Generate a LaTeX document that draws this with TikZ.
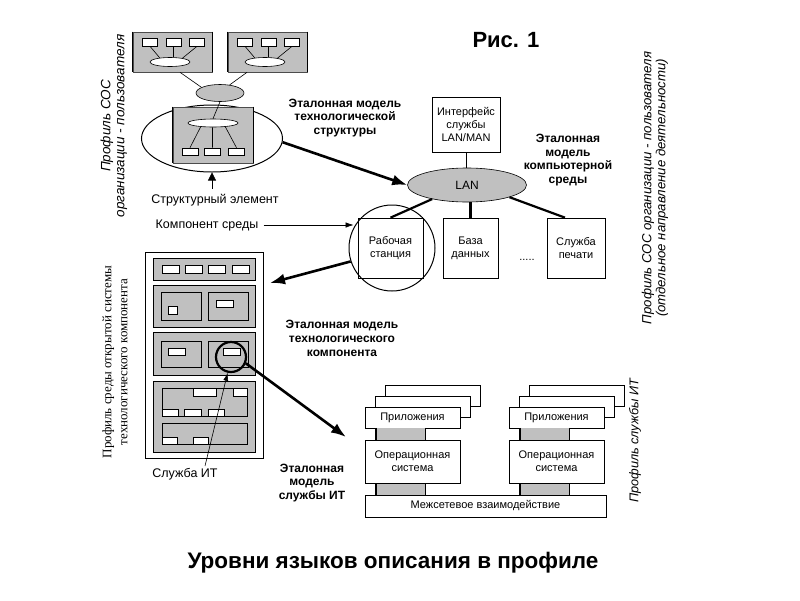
\documentclass[tikz,border=0pt]{standalone}
\usepackage{fontspec}
\setmainfont{Liberation Sans}
\newfontfamily\seriffont{Liberation Serif}
\usetikzlibrary{shapes.geometric,arrows.meta,calc}
\definecolor{pgray}{RGB}{192,192,192}
\tikzset{
  box/.style={draw=black, line width=0.7pt, fill=white, rectangle, inner sep=0pt, align=center, font=\fontsize{11}{13}\selectfont},
  gbox/.style={draw=black, line width=0.8pt, fill=pgray, rectangle, inner sep=0pt},
  tbox/.style={draw=gray!60!black, line width=0.6pt, fill=pgray, rectangle, inner sep=0pt},
  sm/.style={draw=black, line width=0.6pt, fill=white, rectangle, inner sep=0pt},
  ell/.style={draw=black, line width=0.6pt, ellipse, inner sep=0pt},
  conn/.style={line width=0.6pt},
  link/.style={line width=2.2pt},
  bigarrow/.style={line width=2.6pt, -{Latex[length=15pt,width=11pt]}},
  smallarrow/.style={line width=0.6pt, -{Latex[length=8pt,width=5.5pt]}},
  boldlbl/.style={font=\fontsize{12}{13.8}\selectfont\bfseries, align=center, inner sep=0pt},
  lbl/.style={font=\fontsize{12.5}{14}\selectfont, inner sep=0pt},
  gl/.style={fill=pgray, inner sep=0pt, minimum width=49pt, minimum height=12pt},
  side/.style={line width=1.4pt},
}
\begin{document}
\begin{tikzpicture}[x=1pt,y=-1pt]
\useasboundingbox[fill=white] (0,0) rectangle (800,600);

% ---------- top left: structure ----------
\node[tbox, minimum width=79pt, minimum height=40pt] (b1) at (172.5,52) {};
\node[tbox, minimum width=79pt, minimum height=40pt] (b2) at (267.5,52) {};
\draw[side] (b1.north west) -- (b1.south west) (b1.north east) -- (b1.south east);
\draw[side] (b2.north west) -- (b2.south west) (b2.north east) -- (b2.south east);
\foreach \n/\x in {1/150,2/173.5,3/197}{
  \node[sm, minimum width=15pt, minimum height=8pt] (b1r\n) at (\x,42) {};
}
\foreach \n/\x in {1/245,2/268.5,3/292}{
  \node[sm, minimum width=15pt, minimum height=8pt] (b2r\n) at (\x,42) {};
}
\node[ell, fill=white, minimum width=40pt, minimum height=9pt] (b1e) at (170,62) {};
\node[ell, fill=white, minimum width=40pt, minimum height=9pt] (b2e) at (265,62) {};
\draw[conn] (b1r1.south) -- (b1e.158) (b1r2.south) -- (b1r2.south |- b1e.north) (b1r3.south) -- (b1e.17);
\draw[conn] (b2r1.south) -- (b2e.158) (b2r2.south) -- (b2r2.south |- b2e.north) (b2r3.south) -- (b2e.17);

\node[ell, fill=pgray, minimum width=48pt, minimum height=17pt] (ge) at (220,93) {};
\draw[conn] ([xshift=7.5pt]b1.south) -- (ge.163);
\draw[conn] ([xshift=-20.5pt]b2.south) -- (ge.40);

\node[ell, line width=1pt, fill=white, minimum width=141pt, minimum height=67pt] (BE) at (212,138.5) {};
\node[tbox, minimum width=80pt, minimum height=56pt] (GB) at (213,135) {};
\draw[side] (GB.north west) -- (GB.south west) (GB.north east) -- (GB.south east);
\node[ell, fill=white, minimum width=50pt, minimum height=8pt] (ie) at (213,123) {};
\foreach \n/\x in {1/190,2/212.5,3/236.5}{
  \node[sm, minimum width=16pt, minimum height=7pt] (gr\n) at (\x,151.5) {};
}
\draw[conn] (ie.197) -- (gr1.north) (gr2.north) -- (gr2.north |- ie.south) (ie.343) -- (gr3.north);
\draw[conn] (ge.south) -- (ie.north);

\node[lbl] (se) at (215,200) {Структурный элемент};
\draw[conn, -{Triangle[length=8pt,width=8pt]}] (BE.south |- se.north) ++(0,-5) -- (BE.south);

\node[font=\fontsize{13.5}{14}\selectfont\itshape, rotate=90, align=center, inner sep=0pt] (RL) at (114,126) {Профиль СОС\\организации - пользователя};

% ---------- title ----------
\node[font=\fontsize{22}{26}\selectfont\bfseries, inner sep=0pt] (T) at (506,40) {Рис. 1};

% ---------- LAN ----------
\node[box, minimum width=68pt, minimum height=55pt] (IB) at (466,124.5) {Интерфейс\\службы\\LAN/MAN};
\node[ell, fill=pgray, minimum width=119pt, minimum height=34pt, font=\fontsize{12}{14}\selectfont] (LAN) at (467,185) {LAN};
\draw[conn] (IB.south) -- (IB.south |- LAN.north);

\node[boldlbl] (L1) at (345,118) {Эталонная модель\\технологической\\структуры};
\node[boldlbl] (L2) at (568,160) {Эталонная\\модель\\компьютерной\\среды};

\node[box, minimum width=65pt, minimum height=60pt] (RS) at (390.5,248) {Рабочая\\станция};
\node[box, minimum width=55pt, minimum height=60pt] (DB) at (470.5,248) {База\\данных};
\node[box, minimum width=58pt, minimum height=60pt] (PS) at (576,248) {Служба\\печати};
\node[font=\fontsize{11}{12}\selectfont, inner sep=0pt] (dots) at (527,260) {.....};
\node[circle, draw, line width=1pt, minimum size=86pt, inner sep=0pt] (C) at (392,248) {};

\draw[link] (LAN.202) -- (RS.north);
\draw[link] (DB.north) -- (DB.north |- LAN.south);
\draw[link] (LAN.344) -- ([xshift=-11pt]PS.north);

\draw[bigarrow] (BE.357) -- (LAN.west);

\node[lbl] (KS) at (207,225) {Компонент среды};
\draw[smallarrow] ([xshift=5pt]KS.east) -- ([xshift=5pt]C.west |- KS.east);

% ---------- rack ----------
\node[draw, line width=0.8pt, fill=white, minimum width=118pt, minimum height=206pt, inner sep=0pt] (RK) at (204,355) {};
\node[gbox, minimum width=102pt, minimum height=22pt] (P1) at (204,269) {};
\foreach \n/\x in {1/170.5,2/193.5,3/216.5,4/240.5}{
  \node[sm, minimum width=17pt, minimum height=8pt] (p1r\n) at (\x,269.5) {};
}
\node[gbox, minimum width=102pt, minimum height=42pt] (P2) at (204,306) {};
\node[gbox, minimum width=40pt, minimum height=28pt] (P2L) at (181,306) {};
\node[gbox, minimum width=40pt, minimum height=28pt] (P2R) at (228,306) {};
\node[sm, minimum width=9pt, minimum height=8pt] (p2s) at (173,310.5) {};
\node[sm, minimum width=17pt, minimum height=7pt] (p2r) at (224.5,303.5) {};
\node[gbox, minimum width=102pt, minimum height=43pt] (P3) at (204,353.5) {};
\node[gbox, minimum width=40pt, minimum height=26pt] (P3L) at (181,354) {};
\node[gbox, minimum width=40pt, minimum height=26pt] (P3R) at (228,354) {};
\node[sm, minimum width=17pt, minimum height=7pt] (p3l) at (176.5,351.5) {};
\node[sm, minimum width=17pt, minimum height=7pt] (p3r) at (231.5,351.5) {};
\node[gbox, minimum width=102pt, minimum height=71pt] (P4) at (204,416.5) {};
\node[gbox, minimum width=85pt, minimum height=28pt] (P4A) at (204.5,402) {};
\node[gbox, minimum width=85pt, minimum height=21pt] (P4B) at (204.5,433.5) {};
\node[sm, minimum width=23pt, minimum height=8pt] (a1) at (204.5,392) {};
\node[sm, minimum width=14pt, minimum height=8pt] (a2) at (240,392) {};
\node[sm, minimum width=16pt, minimum height=7pt] (a3) at (170,412.5) {};
\node[sm, minimum width=17pt, minimum height=7pt] (a4) at (192.5,412.5) {};
\node[sm, minimum width=16pt, minimum height=7pt] (a5) at (216,412.5) {};
\node[sm, minimum width=15pt, minimum height=7pt] (c1) at (169.5,440.5) {};
\node[sm, minimum width=15pt, minimum height=7pt] (c2) at (200.5,440.5) {};
\node[circle, draw, line width=2.2pt, minimum size=30pt, inner sep=0pt] (MC) at (231,357) {};

\coordinate (rackTip) at (270,283);
\draw[bigarrow] (C.198) -- (rackTip);

\node[lbl] (SIT) at (185,474) {Служба ИТ};
\draw[conn, -{Latex[length=8pt,width=5pt]}] (205,466) -- (MC.258);

\node[font=\seriffont\fontsize{13}{16}\selectfont, rotate=90, align=center, inner sep=0pt] (RKT) at (115,362) {Профиль среды открытой системы\\технологического компонента};

\node[boldlbl] (L3) at (342,338.5) {Эталонная модель\\технологического\\компонента};
\node[boldlbl] (L4) at (312,483) {Эталонная\\модель\\службы ИТ};

% ---------- service stacks ----------
\foreach \s/\x in {A/412.5,B/556.5}{
  \node[box, minimum width=95pt, minimum height=21pt] (\s bk2) at (\x+20,395.5) {};
  \node[box, minimum width=95pt, minimum height=21pt] (\s bk1) at (\x+10,406.5) {};
  \node[box, minimum width=95pt, minimum height=21pt] (\s app) at (\x,417.5) {Приложения};
  \node[gl] (\s g1) at (\x-12,434) {};
  \node[gl] (\s g2) at (\x-12,489) {};
  \draw[side] (\s g1.north west) -- (\s g1.south west) (\s g1.north east) -- (\s g1.south east);
  \draw[side] (\s g2.north west) -- (\s g2.south west) (\s g2.north east) -- (\s g2.south east);
  \node[box, minimum width=95pt, minimum height=43pt] (\s os) at (\x,461.5) {Операционная\\система};
}
\node[box, minimum width=241pt, minimum height=22pt] (net) at (485.5,506) {Межсетевое взаимодействие};

\coordinate (stackTip) at (346,437);
\draw[bigarrow] (MC.337) -- (stackTip);

% ---------- right rotated labels ----------
\node[font=\fontsize{13.2}{14}\selectfont\itshape, rotate=90, align=center, inner sep=0pt] (RR) at (655,188) {Профиль СОС организации - пользователя\\(отдельное направление деятельности)};
\node[font=\fontsize{12.7}{14}\selectfont\itshape, rotate=90, inner sep=0pt] (RS2) at (635,441) {Профиль службы ИТ};

% ---------- bottom title ----------
\node[font=\fontsize{22.5}{26}\selectfont\bfseries, inner sep=0pt] (BT) at (393,563) {Уровни языков описания в профиле};
\end{tikzpicture}
\end{document}
